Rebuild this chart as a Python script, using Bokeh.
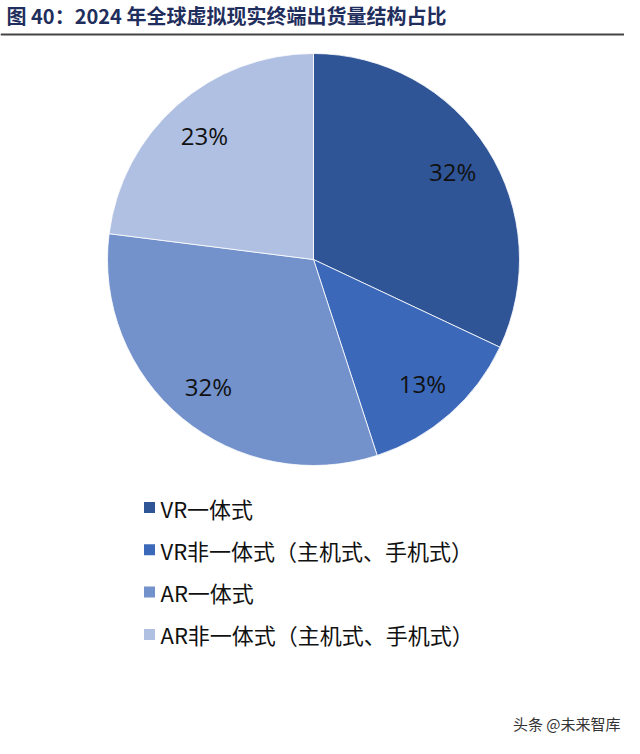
import numpy as np
from bokeh.plotting import figure
from bokeh.models import Range1d, ColumnDataSource
from bokeh.core.properties import value
from bokeh.embed import file_html
from bokeh.resources import INLINE

# ---- data ----
categories = ["VR一体式", "VR非一体式（主机式、手机式）", "AR一体式", "AR非一体式（主机式、手机式）"]
shares = [32, 13, 32, 23]
colors = ["#2F5597", "#3B68B9", "#7391CB", "#B0C0E2"]
title_text = "图 40：2024 年全球虚拟现实终端出货量结构占比"
watermark = "头条 @未来智库"

W, H = 624, 738
p = figure(width=W, height=H, output_backend="svg", toolbar_location=None,
           x_range=Range1d(8, 8 + W), y_range=Range1d(8, 8 + H),
           x_axis_type=None, y_axis_type=None, min_border=0)
p.outline_line_color = None
p.grid.visible = False
p.background_fill_color = "white"

# pie geometry (y measured upward; page_y = 754 - y)
cx, cy, R = 321, 754 - 267, 206
vals = np.array(shares, dtype=float)
frac = vals / vals.sum()
cum = np.concatenate([[0], np.cumsum(frac)])
start = np.pi / 2 - cum[:-1] * 2 * np.pi
end = np.pi / 2 - cum[1:] * 2 * np.pi
mid = (start + end) / 2

src = ColumnDataSource(dict(start=start, end=end, color=colors,
                            lx=cx + 0.8 * R * np.cos(mid),
                            ly=cy + 0.8 * R * np.sin(mid),
                            lab=[f"{v:g}%" for v in shares]))
p.wedge(x=cx, y=cy, radius=R, start_angle="start", end_angle="end",
        direction="clock", fill_color="color", line_color="white",
        line_width=0.8, source=src)
p.text(x="lx", y="ly", text="lab", source=src, text_align="center",
       text_baseline="middle", text_font=value("Open Sans"),
       text_font_size="24px", text_color="#111111")

# title and rule
p.text(x=[14], y=[754 - 23], text=[title_text], text_font=value("Noto Sans CJK SC"),
       text_font_style="bold", text_font_size="20px", text_color="#1F2E5C",
       text_baseline="middle")
p.segment(x0=[8], y0=[754 - 42], x1=[8 + W], y1=[754 - 42],
          line_color="#444444", line_width=2)

# legend
ly0, dy = 754 - 515, 42.3
leg_y = [ly0 - i * dy for i in range(len(categories))]
p.scatter(x=[157] * len(categories), y=leg_y, marker="square", size=11,
          fill_color=colors, line_color=None)
p.text(x=[168] * len(categories), y=leg_y, text=categories,
       text_font=value("Noto Sans CJK SC"), text_font_size="22px",
       text_color="#111111", text_baseline="middle")

# watermark
p.text(x=[628], y=[754 - 731], text=[watermark], text_font=value("Noto Sans CJK SC"),
       text_font_size="15px", text_color="#333333", text_align="right",
       text_baseline="middle")

open("out.html", "w").write(file_html(p, INLINE))
